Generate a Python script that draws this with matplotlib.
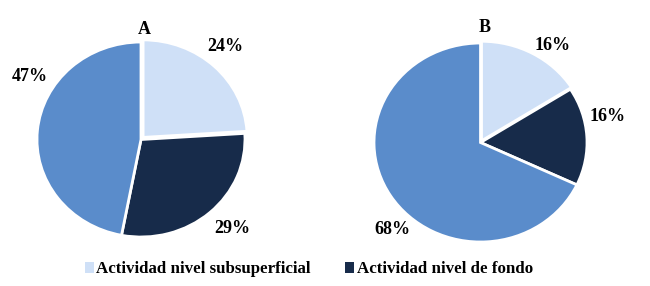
import matplotlib.pyplot as plt
import numpy as np
from matplotlib.patches import Patch

plt.rcParams['font.family'] = ['Liberation Serif', 'DejaVu Serif']
plt.rcParams['font.weight'] = 'bold'

# data
panels = ['A', 'B']
categories = ['Actividad nivel subsuperficial', 'Actividad nivel de fondo', '']
values_a = [24, 29, 47]
values_b = [16, 16, 68]

colors = ['#cfe0f7', '#172b4a', '#5a8ccb']

# layout: axes boxes, label placements (angle deg, radius), panel title spots
boxes = [[0.0569, 0.1713, 0.320, 0.6818], [0.5754, 0.1538, 0.3277, 0.6958]]
explode = [[0.03, 0, 0], [0.02, 0, 0]]
label_pos = [
    [(49.4, 1.25), (-46.1, 1.26), (148.6, 1.25)],
    [(55.2, 1.19), (12.6, 1.22), (226.6, 1.20)],
]
title_xy = [(0.03, 1.133), (0.038, 1.156)]

fig = plt.figure(figsize=(6.5, 2.86), dpi=100)

for i, values in enumerate([values_a, values_b]):
    ax = fig.add_axes(boxes[i])
    wedges, texts = ax.pie(values, colors=colors, startangle=90, counterclock=False,
                           explode=explode[i],
                           labels=[f'{v}%' for v in values], labeldistance=1.2,
                           wedgeprops=dict(edgecolor='white', linewidth=2))
    for t, (ang, r) in zip(texts, label_pos[i]):
        a = np.deg2rad(ang)
        t.set_position((r * np.cos(a), r * np.sin(a)))
        t.set_ha('center')
        t.set_va('center')
        t.set_fontsize(13)
        t.set_fontweight('bold')
    ax.text(*title_xy[i], panels[i], ha='center', va='center', fontsize=13, fontweight='bold')
    ax.set_xlim(-1, 1)
    ax.set_ylim(-1, 1)
    ax.set_aspect('auto')
    ax.axis('off')

handles = [Patch(facecolor=colors[0]), Patch(facecolor=colors[1])]
fig.legend(handles, categories[:2], loc='center', bbox_to_anchor=(0.475, 0.058), ncol=2,
           frameon=False, handlelength=0.55, handleheight=0.55, handletextpad=0.15,
           columnspacing=2.0, prop=dict(size=12.2, weight='bold'))

fig.savefig('out.png', dpi=100)
